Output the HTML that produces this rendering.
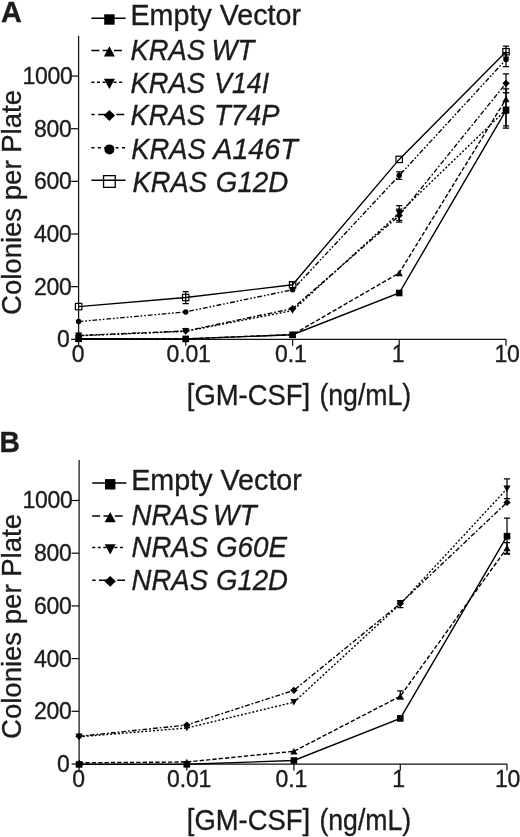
<!DOCTYPE html>
<html><head><meta charset="utf-8"><title>Figure</title>
<style>
html,body{margin:0;padding:0;background:#fff;}
body{width:520px;height:837px;overflow:hidden;font-family:"Liberation Sans",sans-serif;}
svg{display:block;will-change:transform;}
.t{font-family:"Liberation Sans",sans-serif;fill:#1c1c1c;stroke:#1c1c1c;stroke-width:0.35px;}
</style></head>
<body>
<svg width="520" height="837" viewBox="0 0 520 837">
<rect width="520" height="837" fill="#fff"/>
<g id="panelA">
<path d="M78.6 35.8V339.3H506" fill="none" stroke="#111" stroke-width="1.25"/>
<path d="M71.1 339.3H78.6" stroke="#111" stroke-width="1.25"/>
<text x="69.6" y="347.2" font-size="23" letter-spacing="-0.3" text-anchor="end" class="t">0</text>
<path d="M71.1 286.65H78.6" stroke="#111" stroke-width="1.25"/>
<text x="71.4" y="294.55" font-size="23" letter-spacing="-0.3" text-anchor="end" class="t">200</text>
<path d="M71.1 234H78.6" stroke="#111" stroke-width="1.25"/>
<text x="71.4" y="241.9" font-size="23" letter-spacing="-0.3" text-anchor="end" class="t">400</text>
<path d="M71.1 181.35H78.6" stroke="#111" stroke-width="1.25"/>
<text x="71.4" y="189.25" font-size="23" letter-spacing="-0.3" text-anchor="end" class="t">600</text>
<path d="M71.1 128.7H78.6" stroke="#111" stroke-width="1.25"/>
<text x="71.4" y="136.6" font-size="23" letter-spacing="-0.3" text-anchor="end" class="t">800</text>
<path d="M71.1 76.05H78.6" stroke="#111" stroke-width="1.25"/>
<text x="72.4" y="83.95" font-size="23" letter-spacing="-0.3" text-anchor="end" class="t">1000</text>
<path d="M78.6 339.3V345.8" stroke="#111" stroke-width="1.25"/>
<text x="71.8" y="362.2" font-size="23" letter-spacing="-0.15" class="t">0</text>
<path d="M185.7 339.3V345.8" stroke="#111" stroke-width="1.25"/>
<text x="166.55" y="362.2" font-size="23" letter-spacing="-0.15" class="t">0.01</text>
<path d="M292.6 339.3V345.8" stroke="#111" stroke-width="1.25"/>
<text x="275.05" y="362.2" font-size="23" letter-spacing="-0.15" class="t">0.1</text>
<path d="M399.2 339.3V345.8" stroke="#111" stroke-width="1.25"/>
<text x="391.7" y="362.2" font-size="23" letter-spacing="-0.15" class="t">1</text>
<path d="M506 339.3V345.8" stroke="#111" stroke-width="1.25"/>
<text x="494.4" y="362.2" font-size="23" letter-spacing="-0.15" class="t">10</text>
<polyline points="78.6,338.8 185.7,338.9 292.6,334.75 399.2,293 506,110.4" fill="none" stroke="#000" stroke-width="1.4"/>
<polyline points="78.6,338.6 185.7,338.8 292.6,334.6 399.2,273 506,99" fill="none" stroke="#000" stroke-width="1.4" stroke-dasharray="4.3 2.05"/>
<polyline points="78.6,335.8 185.7,331.3 292.6,310.6 399.2,213 506,109.8" fill="none" stroke="#000" stroke-width="1.4" stroke-dasharray="2 1.9"/>
<polyline points="78.6,335.5 185.7,331 292.6,308.6 399.2,215.5 506,83.3" fill="none" stroke="#000" stroke-width="1.4" stroke-dasharray="4.8 2 1.8 2"/>
<polyline points="78.6,321.6 185.7,311.9 292.6,289.75 399.2,175.6 506,59.5" fill="none" stroke="#000" stroke-width="1.4" stroke-dasharray="4.8 1.9 1.7 1.9 1.7 1.9"/>
<polyline points="78.6,306.6 185.7,297.5 292.6,284.75 399.2,159.4 506,51.7" fill="none" stroke="#000" stroke-width="1.4"/>
<path d="M506 92.7V128.1M502.9 92.7H509.1M502.9 128.1H509.1" fill="none" stroke="#000" stroke-width="1.25"/>
<path d="M399.2 205.6V220.4M396.1 205.6H402.3M396.1 220.4H402.3" fill="none" stroke="#000" stroke-width="1.25"/>
<path d="M506 88.9V125.9M502.9 88.9H509.1M502.9 125.9H509.1" fill="none" stroke="#000" stroke-width="1.25"/>
<path d="M399.2 209V222M396.1 209H402.3M396.1 222H402.3" fill="none" stroke="#000" stroke-width="1.25"/>
<path d="M506 73.9V92.7M502.9 73.9H509.1M502.9 92.7H509.1" fill="none" stroke="#000" stroke-width="1.25"/>
<path d="M399.2 171.8V179.4M396.1 171.8H402.3M396.1 179.4H402.3" fill="none" stroke="#000" stroke-width="1.25"/>
<path d="M506 52.5V66.5M502.9 52.5H509.1M502.9 66.5H509.1" fill="none" stroke="#000" stroke-width="1.25"/>
<path d="M185.7 291.5V303.5M182.6 291.5H188.8M182.6 303.5H188.8" fill="none" stroke="#000" stroke-width="1.25"/>
<path d="M292.6 281.75V287.75M289.5 281.75H295.7M289.5 287.75H295.7" fill="none" stroke="#000" stroke-width="1.25"/>
<path d="M506 46.2V57.2M502.9 46.2H509.1M502.9 57.2H509.1" fill="none" stroke="#000" stroke-width="1.25"/>
<rect x="75.4" y="303.4" width="6.4" height="6.4" fill="#fff" fill-opacity="0" stroke="#000" stroke-width="1.2"/>
<rect x="182.5" y="294.3" width="6.4" height="6.4" fill="#fff" fill-opacity="0" stroke="#000" stroke-width="1.2"/>
<rect x="289.4" y="281.55" width="6.4" height="6.4" fill="#fff" fill-opacity="0" stroke="#000" stroke-width="1.2"/>
<rect x="396" y="156.2" width="6.4" height="6.4" fill="#fff" fill-opacity="0" stroke="#000" stroke-width="1.2"/>
<rect x="502.8" y="48.5" width="6.4" height="6.4" fill="#fff" fill-opacity="0" stroke="#000" stroke-width="1.2"/>
<circle cx="78.6" cy="321.6" r="2.75" fill="#000"/>
<circle cx="185.7" cy="311.9" r="2.75" fill="#000"/>
<circle cx="292.6" cy="289.75" r="2.75" fill="#000"/>
<circle cx="399.2" cy="175.6" r="2.75" fill="#000"/>
<circle cx="506" cy="59.5" r="2.75" fill="#000"/>
<path d="M74.9 335.5L78.6 331.9L82.3 335.5L78.6 339.1Z" fill="#000"/>
<path d="M182 331L185.7 327.4L189.4 331L185.7 334.6Z" fill="#000"/>
<path d="M288.9 308.6L292.6 305L296.3 308.6L292.6 312.2Z" fill="#000"/>
<path d="M395.5 215.5L399.2 211.9L402.9 215.5L399.2 219.1Z" fill="#000"/>
<path d="M502.3 83.3L506 79.7L509.7 83.3L506 86.9Z" fill="#000"/>
<path d="M75 332.6L82.2 332.6L78.6 339Z" fill="#000"/>
<path d="M182.1 328.1L189.3 328.1L185.7 334.5Z" fill="#000"/>
<path d="M289 307.4L296.2 307.4L292.6 313.8Z" fill="#000"/>
<path d="M395.6 209.8L402.8 209.8L399.2 216.2Z" fill="#000"/>
<path d="M502.4 106.6L509.6 106.6L506 113Z" fill="#000"/>
<path d="M75 341.8L82.2 341.8L78.6 335.4Z" fill="#000"/>
<path d="M182.1 342L189.3 342L185.7 335.6Z" fill="#000"/>
<path d="M289 337.8L296.2 337.8L292.6 331.4Z" fill="#000"/>
<path d="M395.6 276.2L402.8 276.2L399.2 269.8Z" fill="#000"/>
<path d="M502.4 102.2L509.6 102.2L506 95.8Z" fill="#000"/>
<rect x="75.3" y="335.5" width="6.6" height="6.6" fill="#000"/>
<rect x="182.4" y="335.6" width="6.6" height="6.6" fill="#000"/>
<rect x="289.3" y="331.45" width="6.6" height="6.6" fill="#000"/>
<rect x="395.9" y="289.7" width="6.6" height="6.6" fill="#000"/>
<rect x="502.7" y="107.1" width="6.6" height="6.6" fill="#000"/>
<path d="M91.4 18.2H125.6" stroke="#000" stroke-width="1.5"/>
<rect x="104.2" y="14.3" width="10.4" height="10.4" fill="#000"/>
<text x="130.5" y="25.1" font-size="29" textLength="170.5" lengthAdjust="spacingAndGlyphs" class="t">Empty Vector</text>
<path d="M91.4 50.4H122.6" stroke="#000" stroke-width="1.5" stroke-dasharray="7.9 3.4"/>
<path d="M103.9 56.55L114.9 56.55L109.4 46.25Z" fill="#000"/>
<text x="130.5" y="59.9" font-size="29" font-style="italic" textLength="74.5" lengthAdjust="spacingAndGlyphs" class="t">KRAS</text>
<text x="211.5" y="59.9" font-size="29" font-style="italic" textLength="42.8" lengthAdjust="spacingAndGlyphs" class="t">WT</text>
<path d="M91.4 82.2H122.6" stroke="#000" stroke-width="1.5" stroke-dasharray="3 2.55"/>
<path d="M103.9 78.75L114.9 78.75L109.4 89.05Z" fill="#000"/>
<text x="130.5" y="92.8" font-size="29" font-style="italic" textLength="74.5" lengthAdjust="spacingAndGlyphs" class="t">KRAS</text>
<text x="214.3" y="92.8" font-size="29" font-style="italic" textLength="54.8" lengthAdjust="spacingAndGlyphs" class="t">V14I</text>
<path d="M91.4 114.4H124.3" stroke="#000" stroke-width="1.5" stroke-dasharray="8 3.4 3.4 3.4" stroke-dashoffset="11.4"/>
<path d="M103.75 115.5L109.4 110.1L115.05 115.5L109.4 120.9Z" fill="#000"/>
<text x="130.5" y="124.9" font-size="29" font-style="italic" textLength="74.5" lengthAdjust="spacingAndGlyphs" class="t">KRAS</text>
<text x="214" y="124.9" font-size="29" font-style="italic" textLength="65.5" lengthAdjust="spacingAndGlyphs" class="t">T74P</text>
<path d="M91.4 147.8H125.5" stroke="#000" stroke-width="1.5" stroke-dasharray="8 3.4 3 3.4 3 3.4" stroke-dashoffset="11.4"/>
<circle cx="109.4" cy="149.4" r="5" fill="#000"/>
<text x="131.3" y="158.6" font-size="29" font-style="italic" textLength="74.5" lengthAdjust="spacingAndGlyphs" class="t">KRAS</text>
<text x="213.3" y="158.6" font-size="29" font-style="italic" textLength="84.5" lengthAdjust="spacingAndGlyphs" class="t">A146T</text>
<path d="M91.4 180.2H125.6" stroke="#000" stroke-width="1.5"/>
<rect x="103.55" y="175.65" width="11.7" height="11.7" fill="#fff" fill-opacity="0" stroke="#000" stroke-width="1.3"/>
<text x="132.5" y="192" font-size="29" font-style="italic" textLength="74.5" lengthAdjust="spacingAndGlyphs" class="t">KRAS</text>
<text x="215.8" y="192" font-size="29" font-style="italic" textLength="72.5" lengthAdjust="spacingAndGlyphs" class="t">G12D</text>
<text x="1.1" y="22.2" font-size="29.6" font-weight="bold" textLength="20.8" lengthAdjust="spacingAndGlyphs" class="t">A</text>
<text x="186.8" y="405.3" font-size="29" textLength="123.3" lengthAdjust="spacingAndGlyphs" class="t">[GM-CSF]</text>
<text x="319.4" y="405.3" font-size="29" textLength="91.8" lengthAdjust="spacingAndGlyphs" class="t">(ng/mL)</text>
<text transform="translate(21.0 315) rotate(-90)" font-size="28" textLength="225" lengthAdjust="spacingAndGlyphs" class="t">Colonies per Plate</text>
</g>
<g id="panelB">
<path d="M79.1 460V764H507" fill="none" stroke="#111" stroke-width="1.25"/>
<path d="M71.6 764H79.1" stroke="#111" stroke-width="1.25"/>
<text x="69.6" y="771.9" font-size="23" letter-spacing="-0.3" text-anchor="end" class="t">0</text>
<path d="M71.6 711.3H79.1" stroke="#111" stroke-width="1.25"/>
<text x="71.4" y="719.2" font-size="23" letter-spacing="-0.3" text-anchor="end" class="t">200</text>
<path d="M71.6 658.6H79.1" stroke="#111" stroke-width="1.25"/>
<text x="71.4" y="666.5" font-size="23" letter-spacing="-0.3" text-anchor="end" class="t">400</text>
<path d="M71.6 605.9H79.1" stroke="#111" stroke-width="1.25"/>
<text x="71.4" y="613.8" font-size="23" letter-spacing="-0.3" text-anchor="end" class="t">600</text>
<path d="M71.6 553.2H79.1" stroke="#111" stroke-width="1.25"/>
<text x="71.4" y="561.1" font-size="23" letter-spacing="-0.3" text-anchor="end" class="t">800</text>
<path d="M71.6 500.5H79.1" stroke="#111" stroke-width="1.25"/>
<text x="72.4" y="508.4" font-size="23" letter-spacing="-0.3" text-anchor="end" class="t">1000</text>
<path d="M79.1 764V770.5" stroke="#111" stroke-width="1.25"/>
<text x="72.3" y="786.9" font-size="23" letter-spacing="-0.15" class="t">0</text>
<path d="M186.8 764V770.5" stroke="#111" stroke-width="1.25"/>
<text x="167.05" y="786.9" font-size="23" letter-spacing="-0.15" class="t">0.01</text>
<path d="M293.9 764V770.5" stroke="#111" stroke-width="1.25"/>
<text x="275.55" y="786.9" font-size="23" letter-spacing="-0.15" class="t">0.1</text>
<path d="M400.3 764V770.5" stroke="#111" stroke-width="1.25"/>
<text x="392.2" y="786.9" font-size="23" letter-spacing="-0.15" class="t">1</text>
<path d="M507 764V770.5" stroke="#111" stroke-width="1.25"/>
<text x="494.9" y="786.9" font-size="23" letter-spacing="-0.15" class="t">10</text>
<polyline points="79.1,764.4 186.8,764.3 293.9,760.5 400.3,718.4 507,536.2" fill="none" stroke="#000" stroke-width="1.4"/>
<polyline points="79.1,762.8 186.8,762 293.9,751.3 400.3,696.2 507,548" fill="none" stroke="#000" stroke-width="1.4" stroke-dasharray="4.3 2.05"/>
<polyline points="79.1,736.8 186.8,728 293.9,702.2 400.3,604 507,488.7" fill="none" stroke="#000" stroke-width="1.4" stroke-dasharray="2 1.9"/>
<polyline points="79.1,736.3 186.8,725 293.9,690.3 400.3,603.5 507,502.4" fill="none" stroke="#000" stroke-width="1.4" stroke-dasharray="4.8 2 1.8 2"/>
<path d="M507 518.2V554.2M503.9 518.2H510.1M503.9 554.2H510.1" fill="none" stroke="#000" stroke-width="1.25"/>
<path d="M400.3 690.8V698.8M397.2 690.8H403.4M397.2 698.8H403.4" fill="none" stroke="#000" stroke-width="1.25"/>
<path d="M507 542.6V553.4M503.9 542.6H510.1M503.9 553.4H510.1" fill="none" stroke="#000" stroke-width="1.25"/>
<path d="M400.3 600.5V607.5M397.2 600.5H403.4M397.2 607.5H403.4" fill="none" stroke="#000" stroke-width="1.25"/>
<path d="M507 478.9V498.5M503.9 478.9H510.1M503.9 498.5H510.1" fill="none" stroke="#000" stroke-width="1.25"/>
<path d="M75.4 736.3L79.1 732.7L82.8 736.3L79.1 739.9Z" fill="#000"/>
<path d="M183.1 725L186.8 721.4L190.5 725L186.8 728.6Z" fill="#000"/>
<path d="M290.2 690.3L293.9 686.7L297.6 690.3L293.9 693.9Z" fill="#000"/>
<path d="M396.6 603.5L400.3 599.9L404 603.5L400.3 607.1Z" fill="#000"/>
<path d="M503.3 502.4L507 498.8L510.7 502.4L507 506Z" fill="#000"/>
<path d="M75.5 733.6L82.7 733.6L79.1 740Z" fill="#000"/>
<path d="M183.2 724.8L190.4 724.8L186.8 731.2Z" fill="#000"/>
<path d="M290.3 699L297.5 699L293.9 705.4Z" fill="#000"/>
<path d="M396.7 600.8L403.9 600.8L400.3 607.2Z" fill="#000"/>
<path d="M503.4 485.5L510.6 485.5L507 491.9Z" fill="#000"/>
<path d="M75.5 766L82.7 766L79.1 759.6Z" fill="#000"/>
<path d="M183.2 765.2L190.4 765.2L186.8 758.8Z" fill="#000"/>
<path d="M290.3 754.5L297.5 754.5L293.9 748.1Z" fill="#000"/>
<path d="M396.7 699.4L403.9 699.4L400.3 693Z" fill="#000"/>
<path d="M503.4 551.2L510.6 551.2L507 544.8Z" fill="#000"/>
<rect x="75.8" y="761.1" width="6.6" height="6.6" fill="#000"/>
<rect x="183.5" y="761" width="6.6" height="6.6" fill="#000"/>
<rect x="290.6" y="757.2" width="6.6" height="6.6" fill="#000"/>
<rect x="397" y="715.1" width="6.6" height="6.6" fill="#000"/>
<rect x="503.7" y="532.9" width="6.6" height="6.6" fill="#000"/>
<path d="M92.2 483H126.4" stroke="#000" stroke-width="1.5"/>
<rect x="105" y="479.1" width="10.4" height="10.4" fill="#000"/>
<text x="131.2" y="490.2" font-size="29" textLength="170.7" lengthAdjust="spacingAndGlyphs" class="t">Empty Vector</text>
<path d="M92.2 516.1H123.4" stroke="#000" stroke-width="1.5" stroke-dasharray="7.9 3.4"/>
<path d="M104.7 522.25L115.7 522.25L110.2 511.95Z" fill="#000"/>
<text x="131.5" y="525" font-size="29" font-style="italic" textLength="76.5" lengthAdjust="spacingAndGlyphs" class="t">NRAS</text>
<text x="213" y="525" font-size="29" font-style="italic" textLength="43.5" lengthAdjust="spacingAndGlyphs" class="t">WT</text>
<path d="M92.2 547.6H123.4" stroke="#000" stroke-width="1.5" stroke-dasharray="3 2.55"/>
<path d="M104.7 544.15L115.7 544.15L110.2 554.45Z" fill="#000"/>
<text x="131.5" y="557" font-size="29" font-style="italic" textLength="76.5" lengthAdjust="spacingAndGlyphs" class="t">NRAS</text>
<text x="216" y="557" font-size="29" font-style="italic" textLength="71" lengthAdjust="spacingAndGlyphs" class="t">G60E</text>
<path d="M92.2 580.2H125.1" stroke="#000" stroke-width="1.5" stroke-dasharray="8 3.4 3.4 3.4" stroke-dashoffset="11.4"/>
<path d="M104.55 581.3L110.2 575.9L115.85 581.3L110.2 586.7Z" fill="#000"/>
<text x="131.5" y="589.6" font-size="29" font-style="italic" textLength="76.5" lengthAdjust="spacingAndGlyphs" class="t">NRAS</text>
<text x="216" y="589.6" font-size="29" font-style="italic" textLength="72" lengthAdjust="spacingAndGlyphs" class="t">G12D</text>
<text x="-0.5" y="452.2" font-size="28.8" font-weight="bold" textLength="20.4" lengthAdjust="spacingAndGlyphs" class="t">B</text>
<text x="186.8" y="830.3" font-size="29" textLength="123.3" lengthAdjust="spacingAndGlyphs" class="t">[GM-CSF]</text>
<text x="319.4" y="830.3" font-size="29" textLength="91.8" lengthAdjust="spacingAndGlyphs" class="t">(ng/mL)</text>
<text transform="translate(21.0 739) rotate(-90)" font-size="28" textLength="225" lengthAdjust="spacingAndGlyphs" class="t">Colonies per Plate</text>
</g>
</svg>
</body></html>
